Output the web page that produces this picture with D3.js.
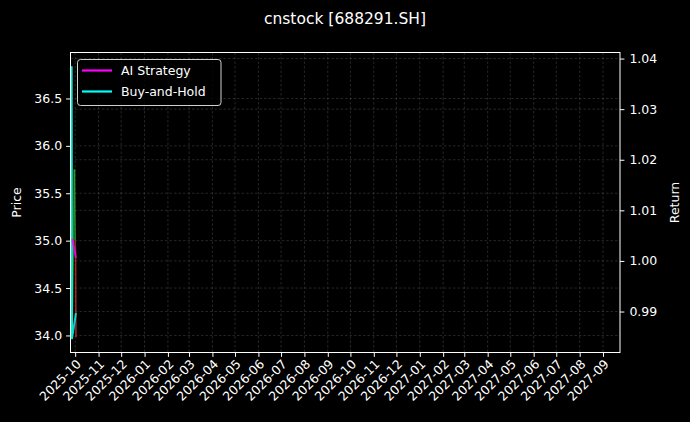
<!DOCTYPE html>
<html><head><meta charset="utf-8">
<script src="https://cdn.jsdelivr.net/npm/d3@7"></script>
<style>
html,body{margin:0;padding:0;background:#000;}
svg{display:block;font-family:"DejaVu Sans",sans-serif;}
</style></head>
<body>
<svg id="chart" width="690" height="422"></svg>
<script>
// ---- data ----
const titleText = "cnstock [688291.SH]";
const xDomain = ["2025-09-24T19:00", "2027-09-23T12:00"];
const monthTicks = ["2025-10","2025-11","2025-12","2026-01","2026-02","2026-03","2026-04","2026-05","2026-06","2026-07","2026-08","2026-09","2026-10","2026-11","2026-12","2027-01","2027-02","2027-03","2027-04","2027-05","2027-06","2027-07","2027-08","2027-09"];
const priceTicks = [34.0, 34.5, 35.0, 35.5, 36.0, 36.5];
const returnTicks = [0.99, 1.00, 1.01, 1.02, 1.03, 1.04];
const priceDomain = [33.82, 36.985];
const returnDomain = [0.9819, 1.0412];

// price (left axis)
const priceDates  = ["2025-09-26T06:00", "2025-09-26T18:00", "2025-09-30", "2025-10-01", "2025-10-01T12:00", "2025-10-02"];
const priceValues = [36.84, 33.96, 35.75, 35.00, 34.84, 33.98];
// AI Strategy (right axis)
const aiDates  = ["2025-09-27", "2025-10-02"];
const aiValues = [1.0044, 1.0006];
// Buy-and-Hold (right axis)
const bhDates  = ["2025-09-26T06:00", "2025-09-26T18:00", "2025-10-02"];
const bhValues = [1.0385, 0.9846, 0.9897];

const legendLabels = ["AI Strategy", "Buy-and-Hold"];

// ---- layout ----
const W = 690, H = 422;
const m = {left: 70.5, right: 620, top: 52.5, bottom: 352.5};
const parse = s => new Date(s + (s.length === 7 ? "-01T00:00" : (s.length === 10 ? "T00:00" : "")));
const svg = d3.select("#chart");
svg.append("rect").attr("width", W).attr("height", H).attr("fill", "#000");

const x = d3.scaleTime().domain(xDomain.map(parse)).range([m.left, m.right]);
const yL = d3.scaleLinear().domain(priceDomain).range([m.bottom, m.top]);
const yR = d3.scaleLinear().domain(returnDomain).range([m.bottom, m.top]);

const fs = 12.5;
const gridG = svg.append("g").attr("stroke", "#808080").attr("stroke-opacity", 0.5)
  .attr("stroke-width", 0.6).attr("stroke-dasharray", "2.5,2");
monthTicks.forEach(t => {
  const xx = x(parse(t));
  gridG.append("line").attr("x1", xx).attr("x2", xx).attr("y1", m.top).attr("y2", m.bottom);
});
priceTicks.forEach(t => {
  gridG.append("line").attr("x1", m.left).attr("x2", m.right).attr("y1", yL(t)).attr("y2", yL(t));
});
returnTicks.forEach(t => {
  gridG.append("line").attr("x1", m.left).attr("x2", m.right).attr("y1", yR(t)).attr("y2", yR(t));
});

// clip
svg.append("clipPath").attr("id", "clip").append("rect")
  .attr("x", m.left).attr("y", m.top).attr("width", m.right - m.left).attr("height", m.bottom - m.top);
const plot = svg.append("g").attr("clip-path", "url(#clip)");

// price segments
const pts = priceDates.map((d, i) => [x(parse(d)), yL(priceValues[i])]);
for (let i = 0; i < pts.length - 1; i++) {
  plot.append("path")
    .attr("d", d3.line()([pts[i], pts[i + 1]]))
    .attr("fill", "none")
    .attr("stroke", i < 3 ? "#2ca02c" : "#c0302a")
    .attr("stroke-opacity", 0.8)
    .attr("stroke-width", 1.6);
}
const lineR = (dates, vals) => d3.line()(dates.map((d, i) => [x(parse(d)), yR(vals[i])]));
plot.append("path").attr("d", lineR(bhDates, bhValues)).attr("fill", "none")
  .attr("stroke", "#00ffff").attr("stroke-width", 2).attr("stroke-opacity", 0.8);
plot.append("path").attr("d", lineR(aiDates, aiValues)).attr("fill", "none")
  .attr("stroke", "#ff00ff").attr("stroke-width", 2).attr("stroke-opacity", 0.8);

// frame
svg.append("rect").attr("x", m.left).attr("y", m.top).attr("width", m.right - m.left)
  .attr("height", m.bottom - m.top).attr("fill", "none").attr("stroke", "#fff").attr("stroke-width", 1);

// axes
const tl = 4.4;
const axB = d3.axisBottom(x).tickValues(monthTicks.map(parse)).tickFormat(d3.timeFormat("%Y-%m")).tickSize(tl).tickPadding(3);
const gB = svg.append("g").attr("transform", `translate(0,${m.bottom})`).call(axB);
gB.selectAll("text").attr("transform", "rotate(-45)").attr("text-anchor", "end")
  .attr("dx", "-0.35em").attr("dy", "0.45em");
const axL = d3.axisLeft(yL).tickValues(priceTicks).tickFormat(d3.format(".1f")).tickSize(tl).tickPadding(4);
const gL = svg.append("g").attr("transform", `translate(${m.left},0)`).call(axL);
const axR = d3.axisRight(yR).tickValues(returnTicks).tickFormat(d3.format(".2f")).tickSize(tl).tickPadding(5);
const gR = svg.append("g").attr("transform", `translate(${m.right},0)`).call(axR);
[gB, gL, gR].forEach(g => {
  g.select(".domain").remove();
  g.selectAll("line").attr("stroke", "#fff");
  g.selectAll("text").attr("fill", "#fff").attr("font-size", fs).attr("font-family", "DejaVu Sans");
});

// labels
svg.append("text").attr("x", W / 2).attr("y", 24).attr("text-anchor", "middle")
  .attr("fill", "#fff").attr("font-size", 15.5).text(titleText);
svg.append("text").attr("transform", `translate(21,${(m.top + m.bottom) / 2}) rotate(-90)`)
  .attr("text-anchor", "middle").attr("fill", "#fff").attr("font-size", fs).text("Price");
svg.append("text").attr("transform", `translate(679,${(m.top + m.bottom) / 2}) rotate(-90)`)
  .attr("text-anchor", "middle").attr("fill", "#fff").attr("font-size", fs).text("Return");

// legend
const lg = svg.append("g");
lg.append("rect").attr("x", 77.5).attr("y", 59.5).attr("width", 143.5).attr("height", 46).attr("rx", 3)
  .attr("fill", "#000").attr("fill-opacity", 0.8).attr("stroke", "#d0d0d0").attr("stroke-width", 1);
const legColors = ["#ff00ff", "#00ffff"];
legendLabels.forEach((lab, i) => {
  const cy = 70.5 + i * 21;
  lg.append("line").attr("x1", 82).attr("x2", 112).attr("y1", cy).attr("y2", cy)
    .attr("stroke", legColors[i]).attr("stroke-width", 2.2);
  lg.append("text").attr("x", 121).attr("y", cy + 4.5).attr("fill", "#fff").attr("font-size", fs).text(lab);
});
</script>
</body></html>
